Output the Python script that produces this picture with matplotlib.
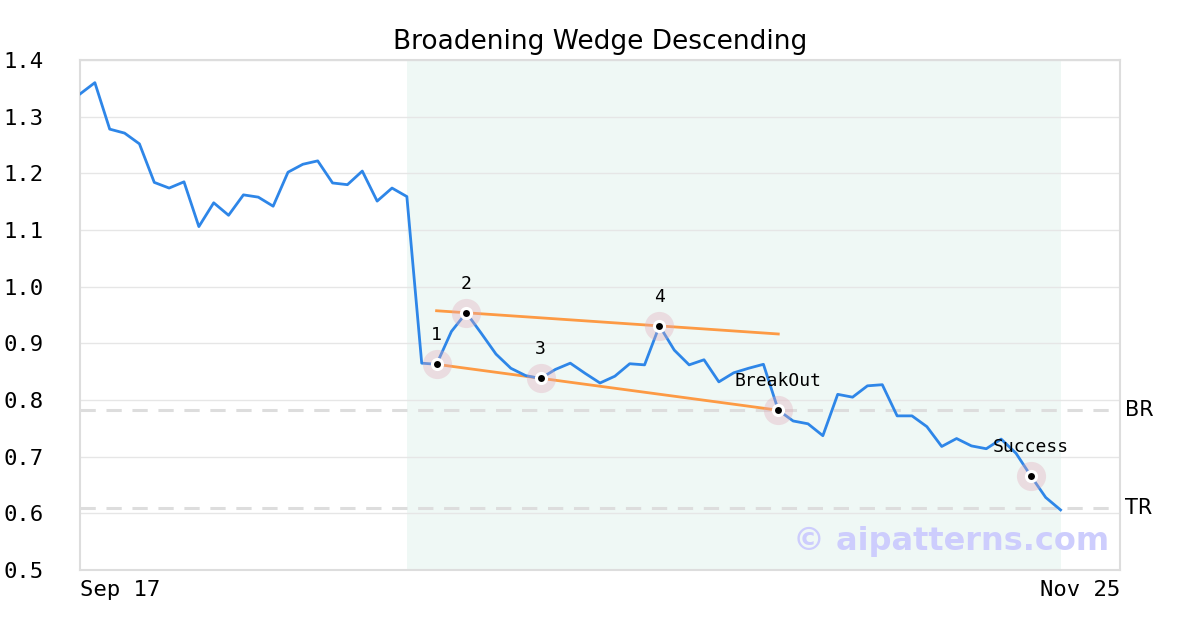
import matplotlib.pyplot as plt

# price series (daily closes)
prices = [1.340, 1.360, 1.278, 1.271, 1.252, 1.184, 1.174, 1.185, 1.106, 1.148,
          1.126, 1.162, 1.158, 1.142, 1.202, 1.216, 1.222, 1.183, 1.180, 1.204,
          1.151, 1.174, 1.159, 0.865, 0.863, 0.921, 0.954, 0.918, 0.881, 0.856,
          0.843, 0.838, 0.854, 0.865, 0.847, 0.830, 0.842, 0.864, 0.862, 0.931,
          0.888, 0.862, 0.871, 0.832, 0.848, 0.856, 0.863, 0.782, 0.763, 0.758,
          0.737, 0.810, 0.805, 0.825, 0.827, 0.772, 0.772, 0.753, 0.718, 0.732,
          0.719, 0.714, 0.731, 0.706, 0.666, 0.628, 0.606]

# pattern points
pivot_idx = [24, 26, 31, 39]
pivot_labels = ['1', '2', '3', '4']
breakout_idx = 47
success_idx = 64

# wedge lines (start/end index, start/end value)
upper_line = ([24, 47], [0.9575, 0.9165])
lower_line = ([24, 47], [0.863, 0.782])

br_level = 0.782
tr_level = 0.610
pattern_span = (22, 66)

x_ticks = [0, 70]
x_ticklabels = ['Sep 17', 'Nov 25']
y_ticks = [0.5, 0.6, 0.7, 0.8, 0.9, 1.0, 1.1, 1.2, 1.3, 1.4]

mono = 'DejaVu Sans Mono'
x = list(range(len(prices)))

fig = plt.figure(figsize=(12, 6.3), dpi=100)
ax = fig.add_axes([80 / 1200, 60 / 630, 1040 / 1200, 510 / 630])

ax.axvspan(pattern_span[0], pattern_span[1], color='#eff8f5', zorder=0, lw=0)
for v in y_ticks:
    ax.axhline(v, color='#e6e6e6', lw=1, zorder=1)

for lvl, name in [(br_level, 'BR'), (tr_level, 'TR')]:
    ax.axhline(lvl, color='#dddddd', lw=2.2, ls=(0, (5, 3.5)), zorder=2)
    ax.text(1.005, lvl, name, transform=ax.get_yaxis_transform(),
            fontsize=15, va='center', ha='left')

ax.plot(upper_line[0], upper_line[1], color='#fd9a44', lw=2, zorder=3)
ax.plot(lower_line[0], lower_line[1], color='#fd9a44', lw=2, zorder=3)
ax.plot(x, prices, color='#2e86e8', lw=2, zorder=4)

marks = pivot_idx + [breakout_idx, success_idx]
texts = pivot_labels + ['BreakOut', 'Success']
for i, t in zip(marks, texts):
    ax.plot(i, prices[i], 'o', ms=21, color='#e1aab9', alpha=0.35, mew=0, zorder=5)
    ax.plot(i, prices[i], 'o', ms=9.5, color='white', mew=0, zorder=6)
    ax.plot(i, prices[i], 'o', ms=5, color='black', mew=0, zorder=7)
    ax.annotate(t, (i, prices[i]), xytext=(0, 21), textcoords='offset points',
                ha='center', va='center', fontsize=13, family=mono, zorder=8)

ax.text(0.990, 0.055, '\u00a9 aipatterns.com', transform=ax.transAxes,
        fontsize=23, fontweight='bold', color='#cdcdfd', ha='right', va='center', zorder=9)

ax.set_xlim(0, 70)
ax.set_ylim(0.5, 1.4)
ax.set_yticks(y_ticks)
ax.set_yticklabels([f'{v:.1f}' for v in y_ticks], family=mono, fontsize=16)
ax.set_xticks(x_ticks)
ax.set_xticklabels(x_ticklabels, family=mono, fontsize=16)
xl = ax.get_xticklabels()
xl[0].set_ha('left')
xl[1].set_ha('right')
ax.tick_params(axis='y', length=0, pad=26)
ax.tick_params(axis='x', length=0, pad=7)
for s in ax.spines.values():
    s.set_color('#dddddd')
    s.set_linewidth(1.5)

ax.set_title('Broadening Wedge Descending', fontsize=19, pad=8)

fig.savefig('out.png', dpi=100)
